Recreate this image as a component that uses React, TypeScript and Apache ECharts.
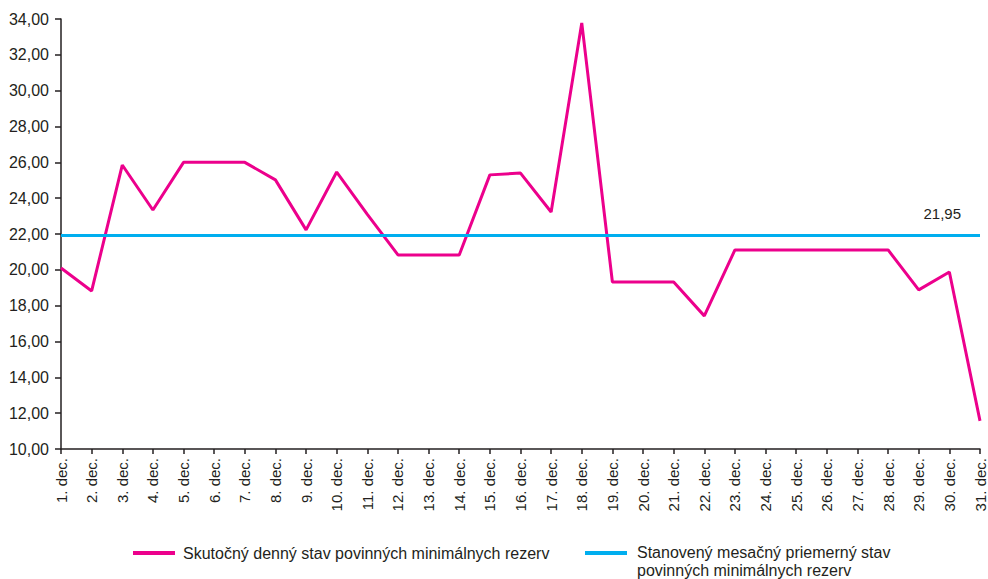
import React, { useEffect, useRef } from "react";
import * as echarts from "echarts";

const days: string[] = Array.from({ length: 31 }, (_, i) => `${i + 1}. dec.`);
const actualValues: number[] = [
  20.1, 18.82, 25.85, 23.34, 26.0, 26.0, 26.0, 25.02, 22.23, 25.46,
  23.1, 20.83, 20.83, 20.83, 25.3, 25.4, 23.23, 33.78, 19.32, 19.32,
  19.32, 17.43, 21.11, 21.11, 21.11, 21.11, 21.11, 21.11, 18.88, 19.88,
  11.57,
];
const requiredAverage = 21.95;
const seriesNames = [
  "Skutočný denný stav povinných minimálnych rezerv",
  "Stanovený mesačný priemerný stav\npovinných minimálnych rezerv",
];
const PINK = "#EC008C";
const BLUE = "#00AEEF";
const FONT = "Liberation Sans, Arial, sans-serif";
const TEXT = "#231F20";

const fmt = (v: number) => v.toFixed(2).replace(".", ",");

export default function App() {
  const ref = useRef<HTMLDivElement>(null);
  useEffect(() => {
    if (!ref.current) return;
    const chart = echarts.init(ref.current, null, { renderer: "svg" });
    chart.setOption({
      animation: false,
      textStyle: { fontFamily: FONT, color: TEXT },
      grid: { left: 61, right: 8, top: 19, bottom: 130, containLabel: false, outerBoundsMode: "none" },
      xAxis: {
        type: "category",
        data: days,
        boundaryGap: false,
        axisLine: { lineStyle: { color: TEXT, width: 1.5 } },
        axisTick: { show: true, length: 5, alignWithLabel: true, lineStyle: { color: TEXT, width: 1.5 } },
        axisLabel: {
          rotate: 90,
          interval: 0,
          margin: 9,
          fontSize: 15,
          color: TEXT,
          fontFamily: FONT,
        },
        splitLine: { show: false },
      },
      yAxis: {
        type: "value",
        min: 10,
        max: 34,
        interval: 2,
        axisLine: { show: true, lineStyle: { color: TEXT, width: 1.5 } },
        axisTick: { show: true, length: 6, lineStyle: { color: TEXT, width: 1.5 } },
        axisLabel: {
          formatter: (v: number) => fmt(v),
          fontSize: 16,
          color: TEXT,
          fontFamily: FONT,
          margin: 12,
        },
        splitLine: { show: false },
      },
      series: [
        {
          name: seriesNames[1],
          type: "line",
          data: [],
          z: 1,
          markLine: {
            silent: true,
            symbol: "none",
            lineStyle: { color: BLUE, width: 3, type: "solid" },
            label: {
              show: true,
              position: "insideEndTop",
              formatter: () => fmt(requiredAverage),
              fontSize: 15,
              color: TEXT,
              fontFamily: FONT,
              distance: [19, 14],
            },
            data: [{ yAxis: requiredAverage }],
          },
        },
        {
          name: seriesNames[0],
          type: "line",
          data: actualValues,
          z: 3,
          showSymbol: false,
          symbol: "none",
          lineStyle: { color: PINK, width: 3 },
          itemStyle: { color: PINK },
        },
      ],
      graphic: [
        { type: "line", shape: { x1: 133, y1: 553, x2: 175, y2: 553 }, style: { stroke: PINK, lineWidth: 4 } },
        {
          type: "text",
          x: 183,
          y: 553,
          style: { text: seriesNames[0], fontSize: 16, fill: TEXT, fontFamily: FONT, verticalAlign: "middle" },
        },
        { type: "line", shape: { x1: 585, y1: 553, x2: 627, y2: 553 }, style: { stroke: BLUE, lineWidth: 4 } },
        {
          type: "text",
          x: 637,
          y: 543,
          style: { text: seriesNames[1], fontSize: 16, fill: TEXT, fontFamily: FONT, lineHeight: 18, verticalAlign: "top" },
        },
      ],
    });
    return () => chart.dispose();
  }, []);
  return <div ref={ref} style={{ width: 988, height: 579, position: "absolute", left: 0, top: 0 }} />;
}
